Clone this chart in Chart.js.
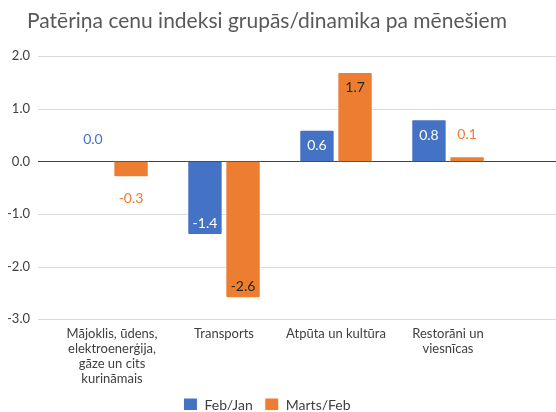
<!DOCTYPE html>
<html lang="lv">
<head>
    <meta charset="UTF-8">
    <title>Patēriņa cenu indeksi</title>
    <script src="https://cdn.jsdelivr.net/npm/chart.js"></script>
    <style>
        body {
            margin: 0;
            padding: 0;
            background-color: #fff;
        }
        #chart-box {
            width: 556px;
            height: 412px;
        }
    </style>
</head>
<body>
    <div id="chart-box">
        <canvas id="cpi-chart" width="556" height="412"></canvas>
    </div>

    <script>
        const chartTitle = 'Patēriņa cenu indeksi grupās/dinamika pa mēnešiem';
        const categories = [
            ['Mājoklis, ūdens,', 'elektroenerģija,', 'gāze un cits', 'kurināmais'],
            'Transports',
            'Atpūta un kultūra',
            ['Restorāni un', 'viesnīcas']
        ];
        const seriesNames = ['Feb/Jan', 'Marts/Feb'];
        const febJan = [0.0, -1.4, 0.6, 0.8];
        const martsFeb = [-0.3, -2.6, 1.7, 0.1];
        const yTicks = [-3, -2, -1, 0, 1, 2];

        const blue = '#4472C4';
        const orange = '#ED7D31';
        const fontFamily = 'Lato, "Open Sans", sans-serif';

        // grid lines run wider than the category area, like in the original
        const wideGrid = {
            id: 'wideGrid',
            beforeDatasetsDraw(chart) {
                const ctx = chart.ctx;
                const y = chart.scales.y;
                ctx.save();
                y.ticks.forEach(t => {
                    const py = Math.round(y.getPixelForValue(t.value)) + 0.5;
                    ctx.beginPath();
                    ctx.strokeStyle = t.value === 0 ? '#404040' : '#d9d9d9';
                    ctx.lineWidth = 1;
                    ctx.moveTo(38, py);
                    ctx.lineTo(chart.width, py);
                    ctx.stroke();
                });
                ctx.restore();
            }
        };

        // value labels: inside end for tall bars, outside otherwise
        const valueLabels = {
            id: 'valueLabels',
            afterDatasetsDraw(chart) {
                const ctx = chart.ctx;
                ctx.save();
                ctx.font = '14px ' + fontFamily;
                ctx.textAlign = 'center';
                ctx.textBaseline = 'middle';
                chart.data.datasets.forEach((ds, i) => {
                    const meta = chart.getDatasetMeta(i);
                    meta.data.forEach((bar, j) => {
                        const v = ds.data[j];
                        let y, color;
                        if (Math.abs(v) >= 0.5) {
                            y = v > 0 ? bar.y + 16 : bar.y - 12;
                            color = i === 0 ? '#ffffff' : '#262626';
                        } else {
                            y = v >= 0 ? bar.y - 22 : bar.y + 21;
                            color = ds.backgroundColor;
                        }
                        ctx.fillStyle = color;
                        ctx.fillText(v.toFixed(1), bar.x, y);
                    });
                });
                ctx.restore();
            }
        };

        new Chart(document.getElementById('cpi-chart'), {
            type: 'bar',
            data: {
                labels: categories,
                datasets: [
                    {
                        label: seriesNames[0],
                        data: febJan,
                        backgroundColor: blue,
                        borderColor: '#ffffff',
                        borderWidth: 1,
                        borderRadius: 2,
                        barPercentage: 0.93,
                        categoryPercentage: 0.68
                    },
                    {
                        label: seriesNames[1],
                        data: martsFeb,
                        backgroundColor: orange,
                        borderColor: '#ffffff',
                        borderWidth: 1,
                        borderRadius: 2,
                        barPercentage: 0.93,
                        categoryPercentage: 0.68
                    }
                ]
            },
            options: {
                responsive: false,
                animation: false,
                layout: {
                    padding: { left: 8, right: 30, top: 0, bottom: 2 }
                },
                plugins: {
                    title: {
                        display: true,
                        text: chartTitle,
                        color: '#595959',
                        font: { family: fontFamily, size: 21, weight: 'normal', lineHeight: 1.2 },
                        padding: { top: 9, bottom: 22 }
                    },
                    legend: {
                        position: 'bottom',
                        maxHeight: 24,
                        labels: {
                            boxWidth: 14,
                            boxHeight: 14,
                            padding: 12,
                            color: '#404040',
                            font: { family: fontFamily, size: 14 }
                        }
                    },
                    tooltip: { enabled: false }
                },
                scales: {
                    x: {
                        grid: { display: false, drawTicks: false },
                        border: { display: false },
                        ticks: {
                            color: '#404040',
                            padding: 7,
                            maxRotation: 0,
                            autoSkip: false,
                            font: { family: fontFamily, size: 13, lineHeight: 1.15 }
                        },
                        afterFit(scale) {
                            scale.height -= 7;
                        }
                    },
                    y: {
                        min: yTicks[0],
                        max: yTicks[yTicks.length - 1],
                        grid: { display: false, drawTicks: false },
                        border: { display: false },
                        afterBuildTicks(scale) {
                            scale.ticks = yTicks.map(v => ({ value: v }));
                        },
                        afterFit(scale) {
                            scale.width = 48;
                        },
                        ticks: {
                            color: '#404040',
                            padding: 26,
                            font: { family: fontFamily, size: 13 },
                            callback: v => v.toFixed(1)
                        }
                    },
                    // empty right-hand space so the plot ends short of the grid lines
                    rightGap: {
                        type: 'linear',
                        position: 'right',
                        grid: { display: false, drawTicks: false },
                        border: { display: false },
                        ticks: { display: false },
                        afterFit(scale) {
                            scale.width = 22;
                        }
                    }
                }
            },
            plugins: [wideGrid, valueLabels]
        });
    </script>
</body>
</html>
